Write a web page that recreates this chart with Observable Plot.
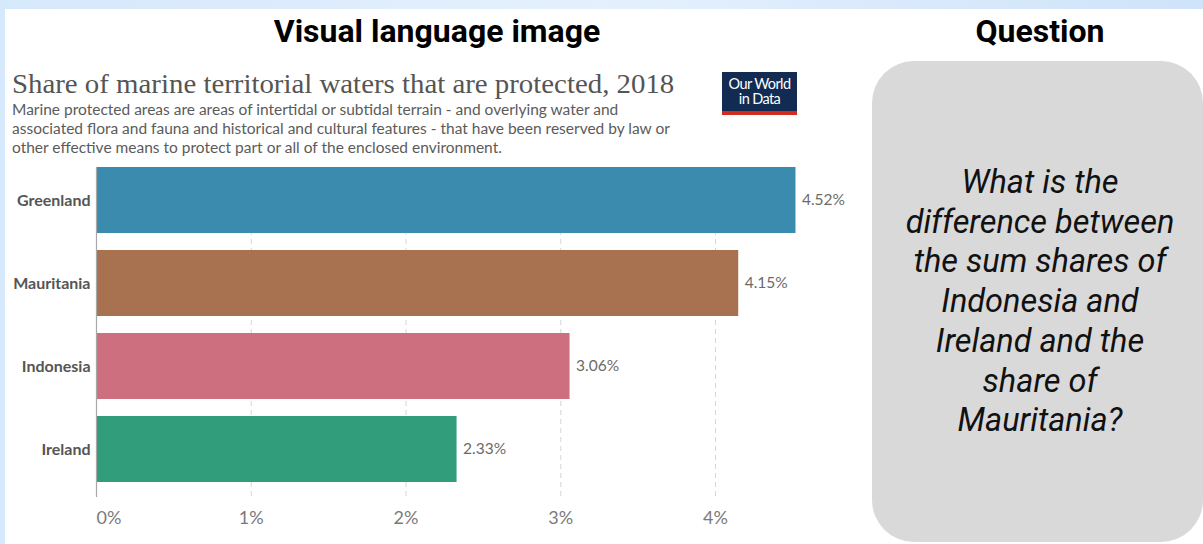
<!DOCTYPE html>
<html>
<head>
<meta charset="utf-8">
<script src="https://cdn.jsdelivr.net/npm/d3@7"></script>
<script src="https://cdn.jsdelivr.net/npm/@observablehq/plot@0.6"></script>
<style>
  html, body { margin: 0; padding: 0; }
  body { width: 1203px; height: 544px; overflow: hidden; position: relative;
         background: linear-gradient(90deg, #d6e8fb 0%, #e4f0fd 50%, #cfe3fa 100%); }
  #page { position: absolute; left: 5px; top: 9px; right: 0; bottom: 0; background: #fff; }
  .head { position: absolute; font-family: Roboto, sans-serif; font-weight: bold; font-size: 32px; line-height: 1;
          color: #000; transform: translateX(-50%); white-space: nowrap; top: 15px; }
  #panel { position: absolute; left: 872px; top: 61px; width: 331px; height: 481px;
           background: #d9d9d9; border-radius: 42px; }
  #question { position: absolute; left: 872px; width: 336px; top: 163px; text-align: center;
              font-family: Roboto, sans-serif; font-style: italic; font-size: 32.5px; line-height: 39.7px; color: #111; }
  #title { position: absolute; left: 12px; top: 68px; font-family: "Liberation Serif", "DejaVu Serif", serif;
           font-size: 28px; color: #555; white-space: nowrap; transform-origin: 0 0; transform: scaleX(1.03); }
  #subtitle { position: absolute; left: 12px; top: 100px; font-family: Lato, sans-serif; font-size: 15.5px;
              line-height: 19px; color: #5b5b5b; white-space: nowrap; }
  #logo { position: absolute; left: 722px; top: 72px; width: 75px; height: 43px; background: #112b52;
          border-bottom: 4px solid #d42b21; box-sizing: border-box; color: #fff; text-align: center;
          font-family: Lato, sans-serif; font-size: 14.5px; line-height: 15px; padding-top: 4px; letter-spacing: -0.6px; }
  #chart { position: absolute; left: 0; top: 150px; }
</style>
</head>
<body>
<div id="page"></div>
<div class="head" style="left:437px">Visual language image</div>
<div class="head" style="left:1040px">Question</div>
<div id="panel"></div>
<div id="question">What is the<br>difference between<br>the sum shares of<br>Indonesia and<br>Ireland and the<br>share of<br>Mauritania?</div>
<div id="title">Share of marine territorial waters that are protected, 2018</div>
<div id="subtitle">Marine protected areas are areas of intertidal or subtidal terrain - and overlying water and<br>associated flora and fauna and historical and cultural features - that have been reserved by law or<br>other effective means to protect part or all of the enclosed environment.</div>
<div id="logo">Our World<br>in Data</div>
<div id="chart"></div>
<script>
const countries = ["Greenland", "Mauritania", "Indonesia", "Ireland"];
const shares = [4.52, 4.15, 3.06, 2.33];
const xTicks = [0, 1, 2, 3, 4];

const data = countries.map((c, i) => ({country: c, share: shares[i]}));
const barColors = ["#3587ab", "#a56c4a", "#cc6a7b", "#2a9a77"];

const chart = Plot.plot({
  width: 880,
  height: 394,
  marginTop: 17,
  marginBottom: 47,
  marginLeft: 96,
  style: {fontFamily: "Lato, sans-serif", background: "transparent"},
  x: {domain: [0, 5], range: [96, 96 + 5 * 154.75]},
  y: {domain: countries, range: [8.5, 340.5], paddingInner: 0.2048, paddingOuter: 0.1024},
  color: {domain: countries, range: barColors},
  marks: [
    Plot.ruleX(xTicks.slice(1), {stroke: "#d6d6d6", strokeDasharray: "5,4"}),
    Plot.barX(data, {x: "share", y: "country", fill: "country", fillOpacity: 0.97}),
    Plot.ruleX([0], {stroke: "#a8a8a8", strokeWidth: 1.2}),
    Plot.text(data, {x: "share", y: "country", text: d => d.share.toFixed(2) + "%",
      dx: 6, textAnchor: "start", fontSize: 15.5, fill: "#6b6b6b"}),
    Plot.axisY({tickSize: 0, tickPadding: 6, fontSize: 16, fontWeight: "bold", color: "#555", label: null}),
    Plot.axisX([0], {tickSize: 0, tickPadding: 14, fontSize: 18, color: "#7a7a7a", label: null,
      textAnchor: "start", tickFormat: d => d + "%"}),
    Plot.axisX(xTicks.slice(1), {tickSize: 0, tickPadding: 14, fontSize: 18, color: "#7a7a7a", label: null,
      tickFormat: d => d + "%"})
  ]
});
document.getElementById("chart").appendChild(chart);
</script>
</body>
</html>
